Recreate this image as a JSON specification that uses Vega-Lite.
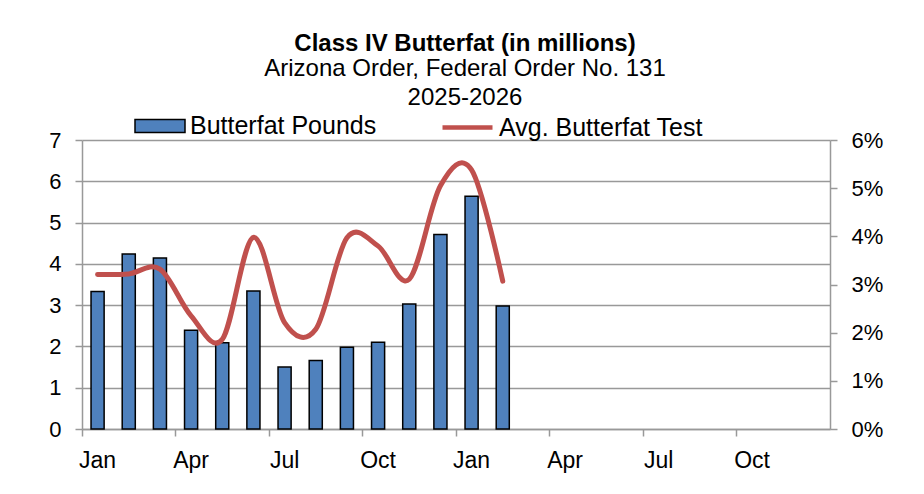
{
  "$schema": "https://vega.github.io/schema/vega-lite/v6.json",
  "width": 748,
  "height": 289,
  "autosize": {"type": "none"},
  "padding": {"left": 82, "top": 140, "right": 94, "bottom": 65},
  "background": "white",
  "config": {
    "font": "Liberation Sans",
    "view": {"stroke": null},
    "axis": {"labelFont": "Liberation Sans", "labelColor": "black", "titleColor": "black"}
  },
  "title": {
    "text": "Class IV Butterfat (in millions)",
    "subtitle": ["Arizona Order, Federal Order No. 131", "2025-2026"],
    "anchor": "middle",
    "frame": "group",
    "font": "Liberation Sans",
    "fontSize": 24,
    "fontWeight": "bold",
    "color": "black",
    "subtitleFont": "Liberation Sans",
    "subtitleFontSize": 24,
    "subtitleColor": "black",
    "subtitleLineHeight": 29,
    "subtitlePadding": 1,
    "offset": -10,
    "dx": 9
  },
  "data": {
    "values": [
      {"month": "2025-01", "pounds": 3.33, "test": 0.0321},
      {"month": "2025-02", "pounds": 4.24, "test": 0.0322},
      {"month": "2025-03", "pounds": 4.14, "test": 0.0332},
      {"month": "2025-04", "pounds": 2.39, "test": 0.0235},
      {"month": "2025-05", "pounds": 2.09, "test": 0.0186},
      {"month": "2025-06", "pounds": 3.34, "test": 0.0398},
      {"month": "2025-07", "pounds": 1.50, "test": 0.0221},
      {"month": "2025-08", "pounds": 1.66, "test": 0.0207},
      {"month": "2025-09", "pounds": 1.98, "test": 0.0397},
      {"month": "2025-10", "pounds": 2.10, "test": 0.0380},
      {"month": "2025-11", "pounds": 3.03, "test": 0.0311},
      {"month": "2025-12", "pounds": 4.71, "test": 0.0505},
      {"month": "2026-01", "pounds": 5.64, "test": 0.0538},
      {"month": "2026-02", "pounds": 2.98, "test": 0.0307}
    ]
  },
  "layer": [
    {
      "mark": {"type": "bar", "width": {"band": 0.42}, "stroke": "black", "strokeWidth": 1.5},
      "encoding": {
        "x": {
          "field": "month",
          "type": "ordinal",
          "scale": {
            "domain": ["2025-01","2025-02","2025-03","2025-04","2025-05","2025-06","2025-07","2025-08","2025-09","2025-10","2025-11","2025-12","2026-01","2026-02","2026-03","2026-04","2026-05","2026-06","2026-07","2026-08","2026-09","2026-10","2026-11","2026-12"],
            "paddingInner": 0,
            "paddingOuter": 0
          },
          "axis": {
            "orient": "bottom",
            "title": null,
            "labels": false,
            "bandPosition": 0,
            "values": ["2025-01","2025-04","2025-07","2025-10","2026-01","2026-04","2026-07","2026-10"],
            "ticks": true,
            "tickSize": 7,
            "tickWidth": 1.5,
            "tickColor": "#999999",
            "domainColor": "#999999",
            "domainWidth": 1.5,
            "grid": false
          }
        },
        "y": {
          "field": "pounds",
          "type": "quantitative",
          "scale": {"domain": [0, 7]},
          "axis": {
            "title": null,
            "orient": "left",
            "values": [0,1,2,3,4,5,6,7],
            "labelFontSize": 22,
            "labelPadding": 14,
            "tickSize": 7,
            "tickWidth": 1.5,
            "tickColor": "#999999",
            "domainColor": "#999999",
            "domainWidth": 1.5,
            "grid": true,
            "gridColor": "#999999",
            "gridWidth": 1.5
          }
        },
        "fill": {
          "datum": "Butterfat Pounds",
          "scale": {"range": ["#4F81BD"]},
          "legend": {
            "orient": "none",
            "legendX": 52,
            "legendY": -40,
            "title": null,
            "padding": 0,
            "symbolType": "M-1,-0.26H1V0.26H-1Z",
            "symbolSize": 2500,
            "symbolStrokeColor": "black",
            "symbolStrokeWidth": 1.5,
            "labelFont": "Liberation Sans",
            "labelFontSize": 25,
            "labelColor": "black",
            "labelLimit": 0,
            "labelOffset": 4
          }
        }
      }
    },
    {
      "mark": {"type": "line", "interpolate": "cardinal", "strokeWidth": 5, "strokeCap": "round"},
      "encoding": {
        "x": {
          "field": "month",
          "type": "ordinal",
          "axis": {
            "orient": "bottom",
            "title": null,
            "values": ["2025-01","2025-04","2025-07","2025-10","2026-01","2026-04","2026-07","2026-10"],
            "labelExpr": "['Jan','Apr','Jul','Oct'][floor((toNumber(substring(datum.value,5,7))-1)/3)]",
            "labelAngle": 0,
            "labelFontSize": 23,
            "labelPadding": 20,
            "ticks": false,
            "domain": false,
            "grid": false
          }
        },
        "y": {
          "field": "test",
          "type": "quantitative",
          "scale": {"domain": [0, 0.06]},
          "axis": {
            "title": null,
            "orient": "right",
            "values": [0,0.01,0.02,0.03,0.04,0.05,0.06],
            "format": ".0%",
            "labelFontSize": 22,
            "labelPadding": 14,
            "tickSize": 7,
            "tickWidth": 1.5,
            "tickColor": "#999999",
            "domainColor": "#999999",
            "domainWidth": 1.5,
            "grid": false
          }
        },
        "stroke": {
          "datum": "Avg. Butterfat Test",
          "scale": {"range": ["#C0504D"]},
          "legend": {
            "orient": "none",
            "legendX": 358,
            "legendY": -40,
            "title": null,
            "padding": 0,
            "symbolType": "M-1,0H1",
            "symbolSize": 2500,
            "symbolStrokeWidth": 4.5,
            "labelFont": "Liberation Sans",
            "labelFontSize": 25,
            "labelColor": "black",
            "labelLimit": 0,
            "labelOffset": 4
          }
        }
      }
    }
  ],
  "resolve": {
    "scale": {"y": "independent"},
    "axis": {"x": "independent", "y": "independent"}
  }
}
